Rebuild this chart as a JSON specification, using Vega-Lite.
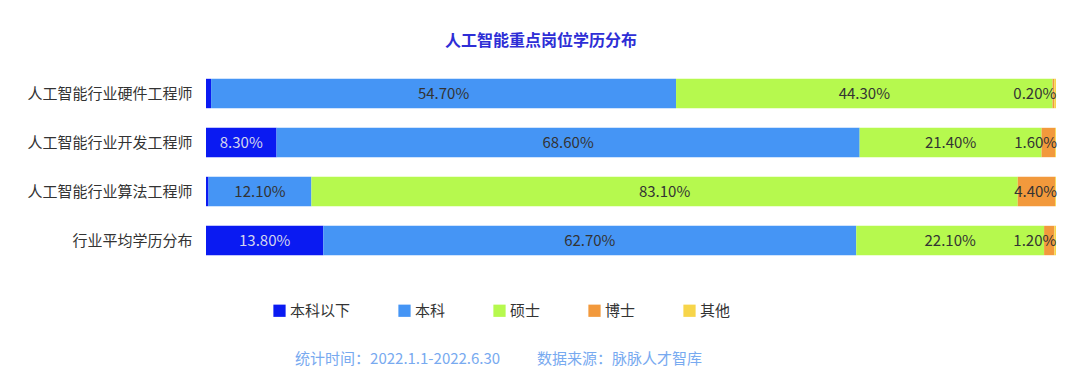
{
  "$schema": "https://vega.github.io/schema/vega-lite/v6.json",
  "width": 850,
  "height": 196,
  "autosize": {"type": "none"},
  "padding": {"left": 206, "top": 69, "right": 24, "bottom": 119},
  "background": "white",
  "config": {"view": {"stroke": null}, "font": "Noto Sans CJK SC"},
  "title": {"text": "人工智能重点岗位学历分布", "anchor": "middle", "dx": -90, "offset": 20, "fontSize": 16, "fontWeight": "bold", "color": "#2E2ED6", "font": "Noto Sans CJK SC"},
  "data": {"values": [
    {"category": "人工智能行业硬件工程师", "level": "本科以下", "value": 0.006},
    {"category": "人工智能行业硬件工程师", "level": "本科", "value": 0.547},
    {"category": "人工智能行业硬件工程师", "level": "硕士", "value": 0.443},
    {"category": "人工智能行业硬件工程师", "level": "博士", "value": 0.002},
    {"category": "人工智能行业硬件工程师", "level": "其他", "value": 0.002},
    {"category": "人工智能行业开发工程师", "level": "本科以下", "value": 0.083},
    {"category": "人工智能行业开发工程师", "level": "本科", "value": 0.686},
    {"category": "人工智能行业开发工程师", "level": "硕士", "value": 0.214},
    {"category": "人工智能行业开发工程师", "level": "博士", "value": 0.016},
    {"category": "人工智能行业开发工程师", "level": "其他", "value": 0.001},
    {"category": "人工智能行业算法工程师", "level": "本科以下", "value": 0.003},
    {"category": "人工智能行业算法工程师", "level": "本科", "value": 0.121},
    {"category": "人工智能行业算法工程师", "level": "硕士", "value": 0.831},
    {"category": "人工智能行业算法工程师", "level": "博士", "value": 0.044},
    {"category": "人工智能行业算法工程师", "level": "其他", "value": 0.001},
    {"category": "行业平均学历分布", "level": "本科以下", "value": 0.138},
    {"category": "行业平均学历分布", "level": "本科", "value": 0.627},
    {"category": "行业平均学历分布", "level": "硕士", "value": 0.221},
    {"category": "行业平均学历分布", "level": "博士", "value": 0.012},
    {"category": "行业平均学历分布", "level": "其他", "value": 0.002}
  ]},
  "transform": [
    {"calculate": "indexof(['本科以下','本科','硕士','博士','其他'], datum.level)", "as": "idx"}
  ],
  "encoding": {
    "y": {
      "field": "category", "type": "nominal",
      "sort": ["人工智能行业硬件工程师", "人工智能行业开发工程师", "人工智能行业算法工程师", "行业平均学历分布"],
      "scale": {"paddingInner": 0.4, "paddingOuter": 0.2},
      "axis": {"title": null, "domain": false, "ticks": false, "labelFontSize": 15, "labelColor": "#333333", "labelPadding": 14, "labelLimit": 300}
    },
    "order": {"field": "idx", "type": "quantitative"}
  },
  "layer": [
    {
      "mark": {"type": "bar"},
      "encoding": {
        "x": {"field": "value", "type": "quantitative", "stack": "zero", "scale": {"domain": [0, 1], "nice": false},
          "axis": {"labels": false, "ticks": false, "domain": false, "grid": false, "title": "统计时间：2022.1.1-2022.6.30\u3000\u3000\u00a0\u00a0数据来源：脉脉人才智库", "titleFontSize": 15, "titleColor": "#78AAF0", "titleFontWeight": "normal", "titleX": 292, "titleY": 93, "titleAlign": "center", "titleBaseline": "middle"}},
        "color": {
          "field": "level", "type": "nominal",
          "sort": ["本科以下", "本科", "硕士", "博士", "其他"],
          "scale": {"domain": ["本科以下", "本科", "硕士", "博士", "其他"], "range": ["#0A1AF2", "#4595F5", "#B6F94E", "#F2993C", "#F7D54A"]},
          "legend": {"orient": "none", "legendX": 66, "legendY": 234, "direction": "horizontal", "title": null, "symbolType": "square", "symbolSize": 150, "symbolStrokeWidth": 0, "labelFontSize": 15, "labelColor": "#333333", "columnPadding": 46, "labelOffset": 3}
        }
      }
    },
    {
      "mark": {"type": "text", "fontSize": 15, "align": "center", "baseline": "middle"},
      "encoding": {
        "detail": {"field": "level", "type": "nominal"},
        "x": {"field": "value", "type": "quantitative", "stack": "zero", "bandPosition": 0.5, "scale": {"domain": [0, 1], "nice": false},
          "axis": {"labels": false, "ticks": false, "domain": false, "grid": false, "title": "统计时间：2022.1.1-2022.6.30\u3000\u3000\u00a0\u00a0数据来源：脉脉人才智库", "titleFontSize": 15, "titleColor": "#78AAF0", "titleFontWeight": "normal", "titleX": 292, "titleY": 93, "titleAlign": "center", "titleBaseline": "middle"}},
        "text": {"condition": {"test": "datum.level == '博士' || datum.level == '其他' || datum.value < 0.05", "value": ""}, "field": "value", "type": "quantitative", "format": ".2%"},
        "color": {"condition": {"test": "datum.level == '本科以下'", "value": "#D4D6EE"}, "value": "#333333"}
      }
    },
    {
      "mark": {"type": "text", "fontSize": 15, "align": "right", "baseline": "middle", "dx": 2},
      "encoding": {
        "detail": {"field": "level", "type": "nominal"},
        "x": {"field": "value", "type": "quantitative", "stack": "zero", "bandPosition": 1, "scale": {"domain": [0, 1], "nice": false},
          "axis": {"labels": false, "ticks": false, "domain": false, "grid": false, "title": "统计时间：2022.1.1-2022.6.30\u3000\u3000\u00a0\u00a0数据来源：脉脉人才智库", "titleFontSize": 15, "titleColor": "#78AAF0", "titleFontWeight": "normal", "titleX": 292, "titleY": 93, "titleAlign": "center", "titleBaseline": "middle"}},
        "text": {"condition": {"test": "datum.level != '博士'", "value": ""}, "field": "value", "type": "quantitative", "format": ".2%"},
        "color": {"value": "#333333"}
      }
    }
  ]
}
